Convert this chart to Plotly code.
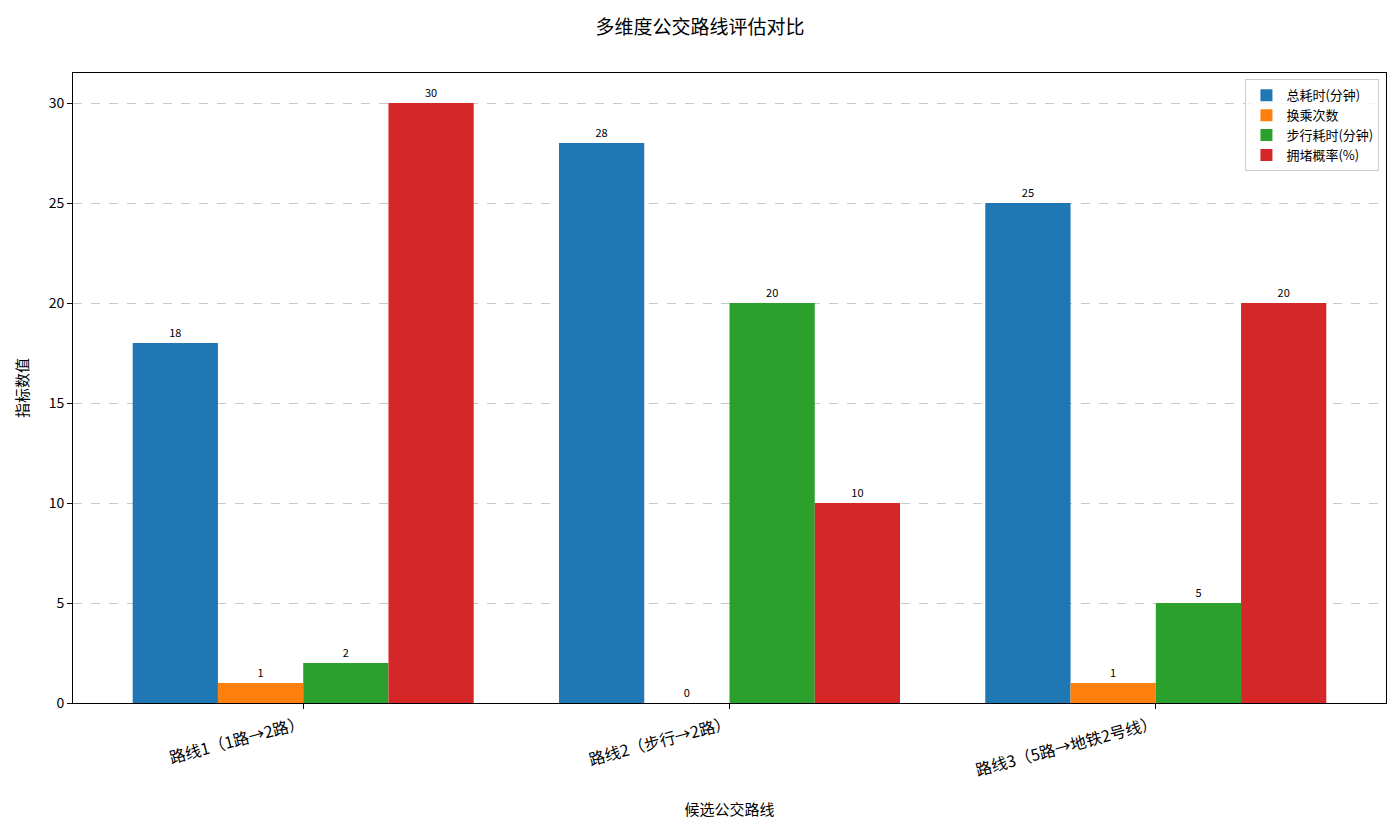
import plotly.graph_objects as go

ROUTES = ["路线1（1路→2路）", "路线2（步行→2路）", "路线3（5路→地铁2号线）"]
TOTAL_TIME = [18, 28, 25]
TRANSFERS = [1, 0, 1]
WALK_TIME = [2, 20, 5]
CROWD_PROB = [30, 10, 20]

SERIES = [
    ("总耗时(分钟)", TOTAL_TIME, "#1f77b4"),
    ("换乘次数", TRANSFERS, "#ff7f0e"),
    ("步行耗时(分钟)", WALK_TIME, "#2ca02c"),
    ("拥堵概率(%)", CROWD_PROB, "#d62728"),
]

FONT = "Noto Sans CJK SC, SimHei, sans-serif"

fig = go.Figure()
for name, vals, color in SERIES:
    fig.add_trace(go.Bar(
        x=list(range(len(ROUTES))), y=vals, name=name,
        marker=dict(color=color, line=dict(width=0)),
        text=[str(v) for v in vals], textposition="outside",
        textfont=dict(size=11, color="black"),
        cliponaxis=False,
    ))

# page has an 8px body margin, so the figure is a bit smaller than the window
fig.update_layout(
    width=1384, height=818,
    font=dict(family=FONT, color="black"),
    title=dict(text="多维度公交路线评估对比", x=0.5, xanchor="center",
               y=1 - 19 / 818, yanchor="middle", font=dict(size=19)),
    barmode="group", bargap=0.2, bargroupgap=0,
    plot_bgcolor="white", paper_bgcolor="white",
    margin=dict(l=65, r=6, t=65, b=123),
    legend=dict(x=0.995, y=0.99, xanchor="right", yanchor="top",
                bordercolor="#cccccc", borderwidth=1, bgcolor="rgba(255,255,255,0.8)",
                font=dict(size=13), tracegroupgap=0),
)
fig.update_xaxes(
    tickmode="array", tickvals=list(range(len(ROUTES))), ticktext=ROUTES,
    tickangle=-15, range=[-0.54, 2.54],
    showline=True, linecolor="black", linewidth=1, mirror=True,
    ticks="outside", ticklen=5, tickcolor="black",
    tickfont=dict(size=16), showgrid=False, zeroline=False,
    title=dict(text="候选公交路线", font=dict(size=15), standoff=24),
)
fig.update_yaxes(
    range=[0, 31.5], tickvals=[0, 5, 10, 15, 20, 25, 30],
    showline=True, linecolor="black", linewidth=1, mirror=True,
    ticks="outside", ticklen=5, tickcolor="black",
    tickfont=dict(size=14), showgrid=True, gridcolor="#c8c8c8",
    griddash="dash", gridwidth=1, zeroline=False,
    title=dict(text="指标数值", font=dict(size=15), standoff=16),
)

fig.write_html("out.html")
